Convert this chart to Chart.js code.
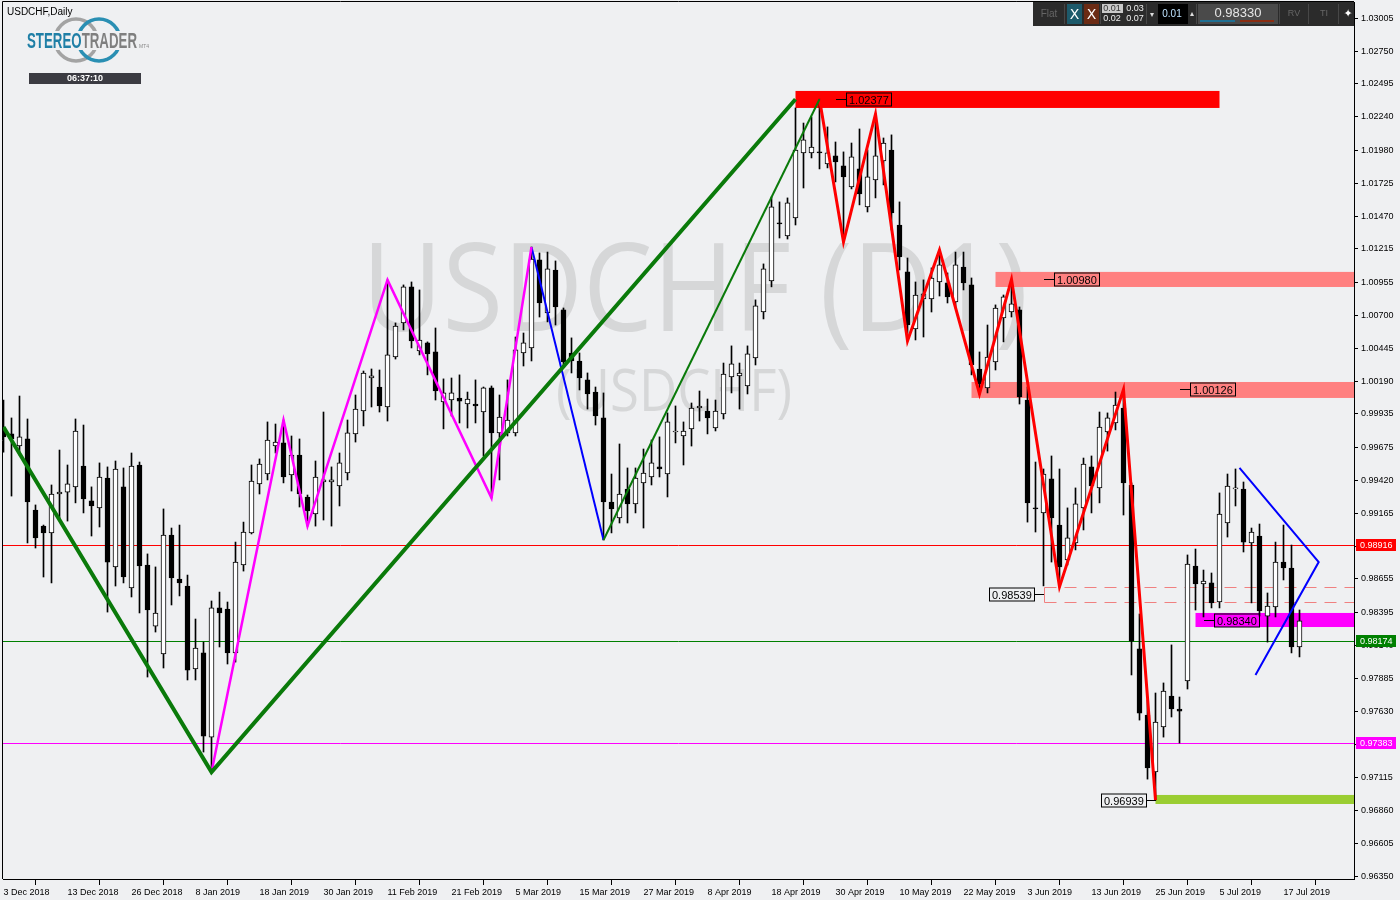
<!DOCTYPE html>
<html><head><meta charset="utf-8">
<style>html,body{margin:0;padding:0;background:#eff0f2;}canvas{display:block;}</style>
<script src="https://cdn.jsdelivr.net/npm/chart.js@4.4.0/dist/chart.umd.min.js"></script>
</head><body>
<canvas id="c" width="1400" height="900"></canvas>
<script>
// ---------- DATA ----------
const xTickIndex = [0,8,16,24,32,40,48,56,64,72,80,88,96,104,112,120,128,136,144,152,160];
const xTickLabels = ['3 Dec 2018','13 Dec 2018','26 Dec 2018','8 Jan 2019','18 Jan 2019','30 Jan 2019','11 Feb 2019','21 Feb 2019','5 Mar 2019','15 Mar 2019','27 Mar 2019','8 Apr 2019','18 Apr 2019','30 Apr 2019','10 May 2019','22 May 2019','3 Jun 2019','13 Jun 2019','25 Jun 2019','5 Jul 2019','17 Jul 2019'];
const yTickValues = [1.03005,1.02750,1.02495,1.02240,1.01980,1.01725,1.01470,1.01215,1.00955,1.00700,1.00445,1.00190,0.99935,0.99675,0.99420,0.99165,0.98910,0.98655,0.98395,0.98140,0.97885,0.97630,0.97370,0.97115,0.96860,0.96605,0.96350];

const opens = [0.99811,0.99780,0.99686,0.99741,0.99190,0.99065,0.99012,0.99314,0.99329,0.99369,
0.99531,0.99260,0.99206,0.99438,0.98748,0.99369,0.98585,0.99539,0.98763,0.98289,
0.98073,0.98996,0.98654,0.98600,0.97956,0.98081,0.97428,0.98430,0.98422,0.98081,
0.98763,0.99012,0.99392,0.99469,0.99686,0.99710,0.99461,0.99616,0.99291,0.99159,
0.99407,0.99407,0.99376,0.99477,0.99780,0.99958,1.00214,1.00144,0.99989,1.00377,
1.00641,1.00921,1.00424,1.00486,1.00416,1.00028,1.00043,1.00059,1.00012,1.00012,
0.99950,1.00137,0.99788,0.99788,0.99788,1.00408,1.00447,1.01130,1.00719,1.01052,
1.00742,1.00408,1.00346,1.00199,1.00105,0.99904,0.99252,0.99128,0.99353,0.99237,
0.99400,0.99446,0.99524,0.99469,0.99795,0.99764,0.99819,0.99981,0.99958,0.99826,
0.99935,1.00222,1.00230,1.00152,1.00370,1.00726,1.00967,1.01417,1.01316,1.01456,
1.01960,1.01960,1.01968,1.01875,1.01937,1.01859,1.01696,1.01836,1.01541,1.01750,
1.01898,1.01983,1.01401,1.01037,1.00594,1.00828,1.00828,1.00959,1.00952,1.00804,
1.01075,1.00936,1.00284,1.00137,1.00338,1.00680,1.00726,1.00742,1.00043,0.99206,
0.99167,0.99431,0.99073,0.98802,0.98934,0.99206,0.99524,0.99361,0.99795,0.99865,
0.99981,0.99384,0.98112,0.97599,0.97157,0.97506,0.97747,0.97646,0.97863,0.98755,
0.98616,0.98624,0.98476,0.99089,0.99353,0.99353,0.98934,0.98988,0.98367,0.98437,
0.98786,0.98740,0.98127];
const highs = [1.00043,0.99904,1.00074,0.99896,0.99229,0.99073,0.99384,0.99655,0.99539,0.99896,
0.99849,0.99369,0.99555,0.99524,0.99570,0.99516,0.99632,0.99562,0.98849,0.98748,
0.99198,0.99050,0.99073,0.98685,0.98344,0.98165,0.98484,0.98553,0.98476,0.98941,
0.99096,0.99539,0.99586,0.99873,0.99857,0.99888,0.99764,0.99741,0.99306,0.99570,
0.99950,0.99524,0.99632,0.99888,1.00082,1.00268,1.00284,1.00276,1.00975,1.00641,
1.00936,1.00959,1.00897,1.00494,1.00602,1.00207,1.00214,1.00238,1.00105,1.00199,
1.00144,1.00152,1.00082,1.00199,1.00532,1.00563,1.01230,1.01184,1.01191,1.01122,
1.00757,1.00525,1.00408,1.00253,1.00144,1.00098,0.99469,0.99702,0.99516,0.99516,
0.99663,0.99733,0.99757,0.99943,0.99997,0.99873,1.00020,1.00113,1.00051,1.00043,
1.00330,1.00463,1.00330,1.00463,1.00820,1.01099,1.01618,1.01580,1.01611,1.02309,
1.02192,1.02239,1.02377,1.02162,1.02045,1.01968,1.02037,1.02146,1.01983,1.02262,
1.02076,1.02100,1.01580,1.01145,1.00959,1.00975,1.01068,1.01207,1.01029,1.01191,
1.01191,1.00990,1.00416,1.00625,1.00781,1.00858,1.00980,1.00765,1.00144,0.99562,
0.99508,0.99609,0.99508,0.99206,0.99361,0.99593,0.99609,0.99950,0.99943,1.00105,
1.00126,0.99400,0.98383,0.97716,0.97770,0.97848,0.98143,0.97739,0.98841,0.98887,
0.98724,0.98701,0.99322,0.99469,0.99508,0.99407,0.99050,0.99081,0.98546,0.98941,
0.99073,0.98918,0.98414];
const lows = [0.99639,0.99298,0.99616,0.98934,0.98895,0.98670,0.98624,0.99112,0.99104,0.99245,
0.99167,0.98988,0.99058,0.98398,0.98600,0.98624,0.98515,0.98391,0.97894,0.98243,
0.97964,0.98453,0.98523,0.97871,0.97871,0.97312,0.97157,0.98127,0.97995,0.98010,
0.98716,0.99004,0.99314,0.99423,0.99632,0.99400,0.99337,0.99213,0.99065,0.99065,
0.99112,0.99065,0.99221,0.99423,0.99717,0.99842,0.99989,0.99950,0.99880,1.00361,
1.00587,1.00447,1.00393,1.00238,1.00043,0.99819,0.99919,0.99865,0.99826,0.99865,
0.99609,0.99283,0.99423,0.99764,0.99764,1.00307,1.00346,1.00687,1.00649,1.00625,
1.00299,1.00253,1.00121,0.99973,0.99849,0.98957,0.99012,0.99089,0.99089,0.99167,
0.99050,0.99384,0.99446,0.99291,0.99710,0.99539,0.99686,0.99880,0.99780,0.99803,
0.99896,1.00098,0.99973,1.00090,1.00315,1.00672,1.00921,1.01300,1.01292,1.01401,
1.01688,1.01921,1.01836,1.01844,1.01735,1.01269,1.01681,1.01557,1.01502,1.01611,
1.01712,1.01362,1.01052,1.00501,1.00509,1.00532,1.00726,1.00850,1.00796,1.00757,
1.00897,1.00238,1.00090,1.00098,1.00276,1.00494,1.00687,1.00012,0.99096,0.99019,
0.98601,0.98786,0.98593,0.98763,0.98880,0.99035,0.99167,0.99245,0.99647,0.99811,
0.99151,0.97910,0.97560,0.97102,0.96939,0.97428,0.97584,0.97382,0.97801,0.98414,
0.98360,0.98430,0.98430,0.98980,0.99221,0.98864,0.98469,0.98367,0.98165,0.98360,
0.98647,0.98081,0.98050];
const closes = [0.99757,0.99741,0.99757,0.99252,0.98973,0.99012,0.99314,0.99329,0.99392,0.99803,
0.99275,0.99221,0.99446,0.98786,0.99508,0.98670,0.99531,0.98755,0.98414,0.98391,
0.98996,0.98662,0.98624,0.97948,0.98119,0.97436,0.98430,0.98391,0.98081,0.98786,
0.99019,0.99415,0.99547,0.99733,0.99717,0.99446,0.99616,0.99314,0.99182,0.99446,
0.99423,0.99423,0.99555,0.99788,0.99973,1.00253,1.00230,0.99997,1.00393,1.00617,
1.00921,1.00501,1.00509,1.00401,1.00113,1.00098,1.00098,1.00035,1.00051,0.99997,
1.00137,0.99788,0.99911,0.99888,1.00432,1.00486,1.01137,1.00796,1.01060,1.00765,
1.00338,1.00346,1.00214,1.00090,0.99919,0.99252,0.99198,0.99314,0.99237,0.99438,
0.99477,0.99555,0.99508,0.99873,0.99803,0.99803,0.99981,0.99997,0.99904,0.99958,
1.00245,1.00323,1.00253,1.00401,1.00773,1.01060,1.01541,1.01409,1.01572,1.01983,
1.02061,1.02006,1.01960,1.01960,1.01890,1.01774,1.01929,1.01642,1.01774,1.01937,
1.02037,1.01495,1.01153,1.00625,1.00858,1.00866,1.00990,1.01091,1.00843,1.01091,
1.00952,1.00315,1.00168,1.00377,1.00757,1.00843,1.00789,1.00067,0.99245,0.99198,
0.99469,0.99128,0.98748,0.98973,0.99237,0.99547,0.99376,0.99834,0.99904,1.00004,
0.99400,0.98173,0.97614,0.97188,0.97545,0.97785,0.97646,0.97630,0.98771,0.98616,
0.98639,0.98469,0.99159,0.99376,0.99361,0.98941,0.99019,0.98406,0.98445,0.98786,
0.98740,0.98127,0.98330];

// zigzag / trend lines (bar index, price)
const greenThickX = [0, 26, 99];          const greenThickY = [0.99834, 0.97157, 1.02377];
const greenThinX  = [75, 102];            const greenThinY  = [0.98957, 1.02377];
const magentaX = [26, 35, 38, 48, 61, 66]; const magentaY = [0.97157, 0.99888, 0.99065, 1.00975, 0.99283, 1.01230];
const blueX = [66, 75];                   const blueY = [1.01230, 0.98957];
const redX = [102,105,109,113,117,122,126,132,140,144];
const redY = [1.02377,1.01269,1.02262,1.00501,1.01207,1.00090,1.00980,0.98593,1.00126,0.96939];
const wedgeX = [154.5, 164.4, 156.5];     const wedgeY = [0.99516, 0.98786, 0.97910];

// zones (start bar, end bar or null = to right edge, top price, bottom price)
const zoneStart  = [99, 124, 121, 149, 144];
const zoneEnd    = [152, null, null, null, null];
const zoneTop    = [1.02441, 1.01037, 1.00183, 0.98391, 0.96979];
const zoneBottom = [1.02309, 1.00920, 1.00059, 0.98282, 0.96909];
const dashedZoneStart = 130; const dashedZoneTop = 0.98593; const dashedZoneBottom = 0.98476;

// price labels
const priceLabels  = [1.02377, 1.00980, 1.00126, 0.98539, 0.98340, 0.96939];
const priceAnchors = [104, 130, 147, 130, 150, 144];

// horizontal levels
const levelValues = [0.98916, 0.98174, 0.97383];

// ---------- STYLES ----------
const BG = '#eff0f2';
const zoneColors = ['#ff0000', '#ff8080', '#ff8080', '#ff00ff', '#9acd32'];
const labelDirs = [1, 1, 1, -1, 1, -1];
const levelColors = ['#ff0000', '#008000', '#ff00ff'];
const AX_FONT = '"Liberation Sans", Arial, sans-serif';

const bodyData = opens.map((o, i) => ({x: i, y: [o, closes[i]]}));
const wickData = highs.map((h, i) => ({x: i, y: [lows[i], h]}));
const bodyColors = opens.map((o, i) => closes[i] >= o ? '#ffffff' : '#000000');

function lineDs(xs, ys, color, width) {
  return {type: 'line', data: xs.map((x, i) => ({x: x, y: ys[i]})), borderColor: color, borderWidth: width,
    pointRadius: 0, pointHoverRadius: 0, fill: false, tension: 0, order: 0};
}

const decor = {
  id: 'decor',
  beforeDraw(chart) {
    const c = chart.ctx;
    c.save(); c.fillStyle = BG; c.fillRect(0, 0, chart.width, chart.height); c.restore();
  },
  beforeDatasetsDraw(chart) {
    const c = chart.ctx, xs = chart.scales.x, ys = chart.scales.y, a = chart.chartArea;
    c.save();
    c.beginPath(); c.rect(a.left, a.top, a.right - a.left, a.bottom - a.top); c.clip();
    // watermark
    c.fillStyle = '#d6d7d8';
    c.textBaseline = 'alphabetic';
    c.font = '123px "Open Sans", sans-serif';
    let t = 'USDCHF (D1)'; let w = c.measureText(t).width;
    c.save(); c.translate(362, 331); c.scale(666 / w, 1); c.fillText(t, 0, 0); c.restore();
    c.font = '58px "Open Sans", sans-serif';
    t = '(USDCHF)'; w = c.measureText(t).width;
    c.save(); c.translate(556, 411); c.scale(236 / w, 1); c.fillText(t, 0, 0); c.restore();
    // zones
    for (let i = 0; i < zoneStart.length; i++) {
      const x1 = xs.getPixelForValue(zoneStart[i]);
      const x2 = zoneEnd[i] === null ? a.right : xs.getPixelForValue(zoneEnd[i]);
      const y1 = ys.getPixelForValue(zoneTop[i]), y2 = ys.getPixelForValue(zoneBottom[i]);
      c.fillStyle = zoneColors[i];
      c.fillRect(x1, y1, x2 - x1, y2 - y1);
    }
    // dashed zone
    {
      const x1 = Math.round(xs.getPixelForValue(dashedZoneStart)) + 0.5;
      const y1 = Math.round(ys.getPixelForValue(dashedZoneTop)) + 0.5, y2 = Math.round(ys.getPixelForValue(dashedZoneBottom)) + 0.5;
      c.strokeStyle = '#f08080'; c.lineWidth = 1;
      c.beginPath(); c.moveTo(x1, y1); c.lineTo(x1, y2); c.stroke();
      c.setLineDash([12, 8]);
      c.beginPath(); c.moveTo(x1, y1); c.lineTo(a.right, y1); c.moveTo(x1, y2); c.lineTo(a.right, y2); c.stroke();
      c.setLineDash([]);
    }
    // levels
    for (let i = 0; i < levelValues.length; i++) {
      const y = Math.round(ys.getPixelForValue(levelValues[i])) + 0.5;
      c.strokeStyle = levelColors[i]; c.lineWidth = 1;
      c.beginPath(); c.moveTo(a.left, y); c.lineTo(a.right, y); c.stroke();
    }
    c.restore();
  },
  afterDatasetsDraw(chart) {
    const c = chart.ctx, xs = chart.scales.x, ys = chart.scales.y;
    c.save();
    c.font = '11px ' + AX_FONT; c.textBaseline = 'middle';
    for (let i = 0; i < priceLabels.length; i++) {
      const txt = priceLabels[i].toFixed(5);
      const ax = Math.round(xs.getPixelForValue(priceAnchors[i]));
      const y = Math.round(ys.getPixelForValue(priceLabels[i])) + 0.5;
      const tw = c.measureText(txt).width, bw = Math.round(tw + 5), bh = 13;
      const bx = labelDirs[i] > 0 ? ax + 10 : ax - 10 - bw;
      c.strokeStyle = '#000'; c.lineWidth = 1;
      c.beginPath();
      if (labelDirs[i] > 0) { c.moveTo(ax, y); c.lineTo(bx, y); } else { c.moveTo(bx + bw, y); c.lineTo(ax, y); }
      c.stroke();
      c.strokeRect(bx + 0.5, Math.round(y - bh / 2), bw, bh);
      c.fillStyle = '#000'; c.textAlign = 'left';
      c.fillText(txt, bx + 3, y + 1);
    }
    c.restore();
  },
  afterDraw(chart) {
    const c = chart.ctx, ys = chart.scales.y, a = chart.chartArea;
    c.save();
    // frame left/top
    c.strokeStyle = '#000'; c.lineWidth = 1;
    c.beginPath(); c.moveTo(a.left - 0.5, a.bottom); c.lineTo(a.left - 0.5, a.top - 0.5); c.lineTo(a.right, a.top - 0.5); c.stroke();
    // colored axis labels
    c.font = '9px ' + AX_FONT; c.textBaseline = 'middle'; c.textAlign = 'left';
    for (let i = 0; i < levelValues.length; i++) {
      const y = Math.round(ys.getPixelForValue(levelValues[i]));
      c.fillStyle = levelColors[i]; c.fillRect(1356, y - 6, 40, 12);
      c.fillStyle = '#fff'; c.fillText(levelValues[i].toFixed(5), 1360, y + 0.5);
    }
    // header text
    c.fillStyle = '#000'; c.font = '10px ' + AX_FONT; c.textBaseline = 'alphabetic';
    c.fillText('USDCHF,Daily', 7, 15);
    // logo rings
    c.lineWidth = 3.5;
    c.strokeStyle = '#a3a3a3'; c.beginPath(); c.arc(76, 40, 21, 0, Math.PI * 2); c.stroke();
    c.strokeStyle = '#2a8fb3'; c.beginPath(); c.arc(99, 40, 21, 0, Math.PI * 2); c.stroke();
    c.fillStyle = BG; c.fillRect(24, 31, 116, 19);
    c.font = 'bold 22px "Liberation Sans", sans-serif';
    const s1 = 'STEREO', s2 = 'TRADER';
    const w1 = c.measureText(s1).width, w2 = c.measureText(s2).width;
    const k = 110 / (w1 + w2);
    c.save(); c.translate(27, 48); c.scale(k, 1);
    c.fillStyle = '#1f7fa6'; c.fillText(s1, 0, 0);
    c.fillStyle = '#7f7f7f'; c.fillText(s2, w1, 0);
    c.restore();
    c.font = '5px ' + AX_FONT; c.fillStyle = '#8a8a8a'; c.fillText('MT4', 139, 48);
    // timer box
    c.fillStyle = '#3b3b42'; c.fillRect(29, 73, 112, 11);
    c.fillStyle = '#fff'; c.font = 'bold 9px ' + AX_FONT; c.textAlign = 'center'; c.textBaseline = 'middle';
    c.fillText('06:37:10', 85, 79);
    // toolbar
    c.fillStyle = '#2b2b2b'; c.fillRect(1033, 2, 321, 24);
    c.strokeStyle = '#474747'; c.lineWidth = 1;
    [1064.5, 1100.5, 1146.5, 1196.5, 1279.5, 1308.5, 1338.5].forEach(x => { c.beginPath(); c.moveTo(x, 4); c.lineTo(x, 24); c.stroke(); });
    c.textAlign = 'center'; c.textBaseline = 'middle';
    c.font = '10px ' + AX_FONT; c.fillStyle = '#666'; c.fillText('Flat', 1049, 14);
    c.fillStyle = '#1d5a6b'; c.fillRect(1067, 4, 15, 20);
    c.fillStyle = '#6b2b14'; c.fillRect(1084, 4, 15, 20);
    c.fillStyle = '#fff'; c.font = '14px "DejaVu Sans", sans-serif';
    c.fillText('X', 1074.5, 15); c.fillText('X', 1091.5, 15);
    c.fillStyle = '#c9c9c9'; c.fillRect(1102, 4, 21, 9);
    c.font = '9px ' + AX_FONT; c.fillStyle = '#333'; c.fillText('0.01', 1112, 9);
    c.fillStyle = '#eee'; c.fillText('0.02', 1112, 19); c.fillText('0.03', 1135, 9); c.fillText('0.07', 1135, 19);
    c.font = '8px "DejaVu Sans", sans-serif'; c.fillStyle = '#ddd'; c.fillText('\u25BE', 1152, 15); c.fillText('\u25B4', 1192, 14);
    c.fillStyle = '#000'; c.fillRect(1158, 4, 30, 20);
    c.font = '10px ' + AX_FONT; c.fillStyle = '#bfe3ff'; c.fillText('0.01', 1172, 14);
    c.fillStyle = '#4a4a4a'; c.fillRect(1198, 4, 80, 20);
    c.font = '13px ' + AX_FONT; c.fillStyle = '#e6e6e6'; c.fillText('0.98330', 1238, 13);
    c.fillStyle = '#1f6f92'; c.fillRect(1200, 20, 35, 2);
    c.fillStyle = '#8a2d12'; c.fillRect(1240, 20, 34, 2);
    c.font = '9px ' + AX_FONT; c.fillStyle = '#666'; c.fillText('RV', 1294, 14); c.fillText('TI', 1324, 14);
    c.fillStyle = '#fff'; c.font = '11px "DejaVu Sans", sans-serif'; c.fillText('\u2726', 1348, 14);
    c.restore();
  }
};

function noPad(s) { s.paddingTop = 0; s.paddingBottom = 0; s.paddingLeft = 0; s.paddingRight = 0; }

new Chart(document.getElementById('c'), {
  type: 'bar',
  data: {
    datasets: [
      lineDs(greenThickX, greenThickY, '#0a7a0a', 4),
      lineDs(greenThinX, greenThinY, '#0a7a0a', 2),
      lineDs(magentaX, magentaY, '#ff00ff', 2.5),
      lineDs(blueX, blueY, '#0000ff', 2),
      lineDs(redX, redY, '#ff0000', 3),
      lineDs(wedgeX, wedgeY, '#0000ff', 2),
      {type: 'bar', data: bodyData, backgroundColor: bodyColors, borderColor: '#000', borderWidth: 1,
        borderSkipped: false, barThickness: 5, grouped: false, order: 1, minBarLength: 1},
      {type: 'bar', data: wickData, backgroundColor: '#000', borderWidth: 0, barThickness: 1, grouped: false, order: 2}
    ]
  },
  options: {
    responsive: false, animation: false, devicePixelRatio: 1,
    layout: {padding: {left: 3, top: 2, right: 0, bottom: 0}},
    plugins: {legend: {display: false}, tooltip: {enabled: false}},
    scales: {
      x: {
        type: 'linear', min: -0.0625, max: 168.8125, offset: false,
        grid: {drawOnChartArea: false, drawTicks: true, tickLength: 6, color: '#000'},
        border: {display: true, color: '#000'},
        ticks: {autoSkip: false, maxRotation: 0, minRotation: 0, align: 'start', labelOffset: 0, padding: 2,
          color: '#000', font: {family: AX_FONT, size: 9},
          callback: (v) => { const k = xTickIndex.indexOf(v); return k >= 0 ? xTickLabels[k] : ''; }},
        afterBuildTicks: (s) => { s.ticks = xTickIndex.map(v => ({value: v})); },
        afterFit: (s) => { s.height = 21; noPad(s); }
      },
      y: {
        type: 'linear', position: 'right', min: 0.96327, max: 1.03131,
        grid: {drawOnChartArea: false, drawTicks: true, tickLength: 4, color: '#000'},
        border: {display: true, color: '#000'},
        ticks: {autoSkip: false, padding: 3, color: '#000', font: {family: AX_FONT, size: 9},
          callback: (v) => Number(v).toFixed(5)},
        afterBuildTicks: (s) => { s.ticks = yTickValues.map(v => ({value: v})); },
        afterFit: (s) => { s.width = 46; noPad(s); }
      }
    }
  },
  plugins: [decor]
});
</script>
</body></html>
